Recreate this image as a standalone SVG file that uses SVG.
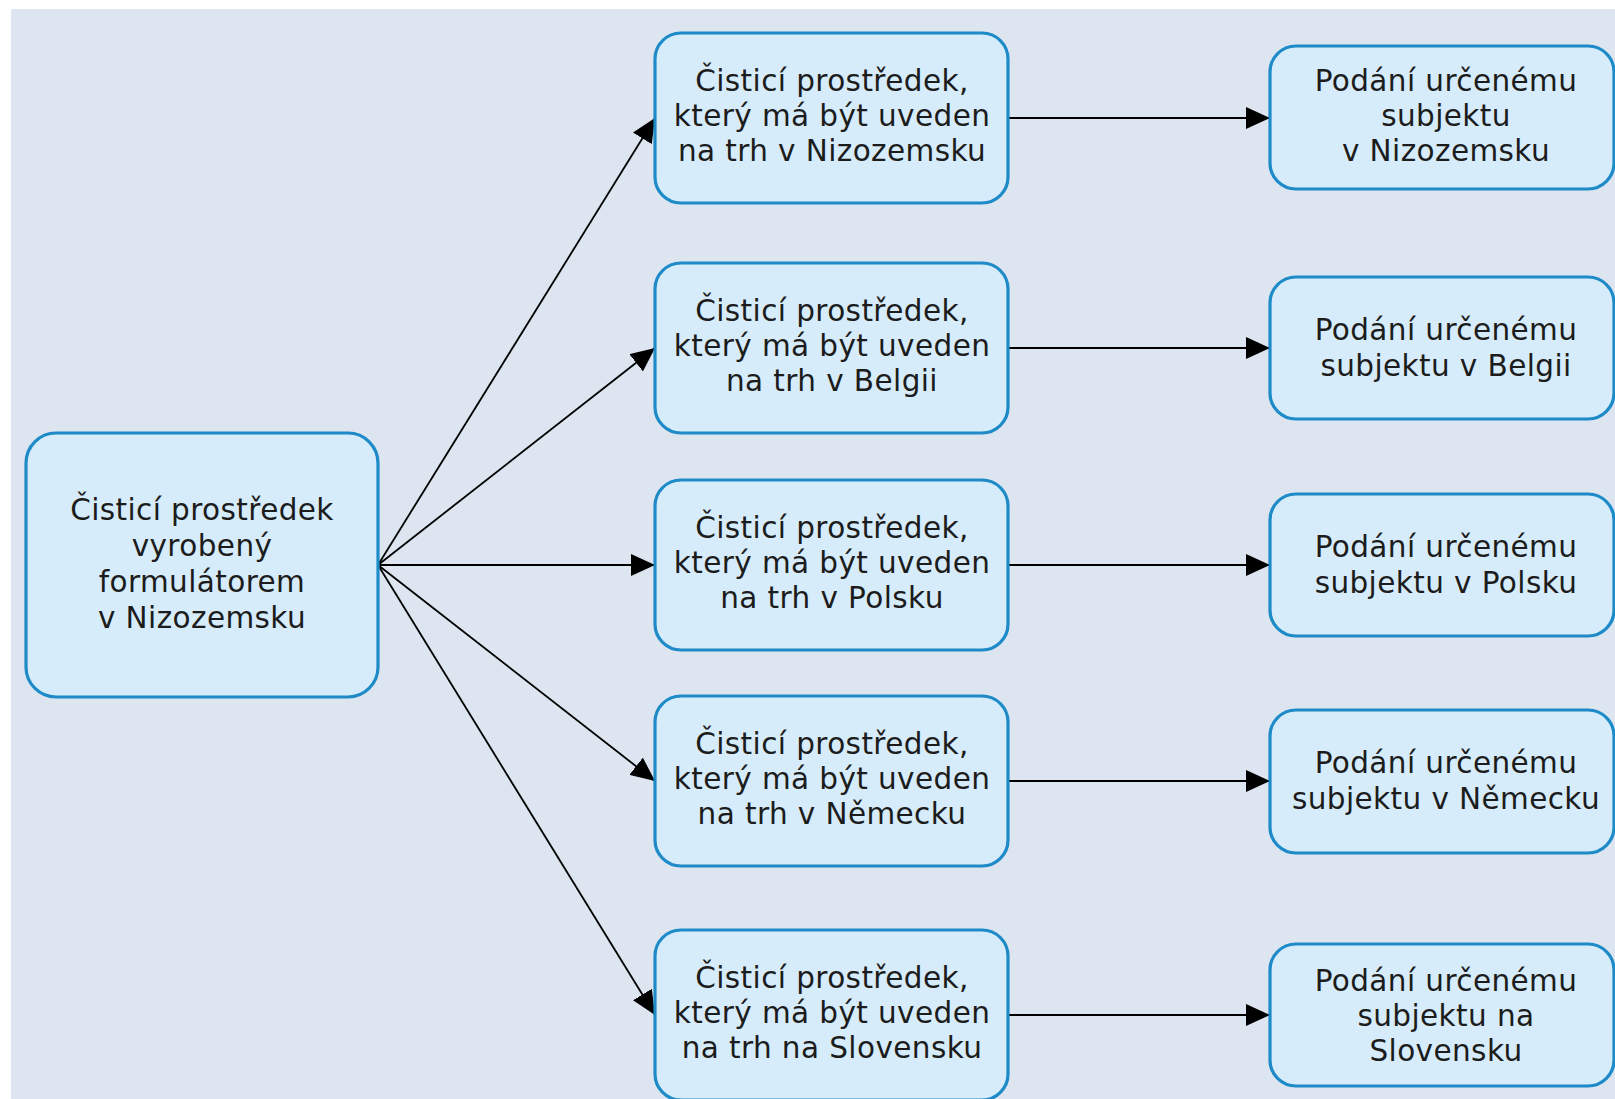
<svg xmlns="http://www.w3.org/2000/svg" width="1615" height="1099" viewBox="0 0 1615 1099">
<defs>
<style>
.box{fill:#d6ecfa;stroke:#1e8bc8;stroke-width:3.2}
.t{font-family:"DejaVu Sans",Verdana,sans-serif;font-size:29.5px;letter-spacing:0.4px;fill:#1c1c1c;text-anchor:middle}
.c{stroke:#000;stroke-width:1.8;fill:none;marker-end:url(#ah)}
</style>
<marker id="ah" markerUnits="userSpaceOnUse" markerWidth="24" markerHeight="22" refX="24" refY="11" orient="auto">
<path d="M0,0 L24,11 L0,22 Z" fill="#000"/>
</marker>
</defs>
<rect x="0" y="0" width="1615" height="1099" fill="#ffffff"/>
<rect x="11" y="9" width="1604" height="1090" fill="#dce5f0"/>
<g id="connectors">
<line class="c" x1="378" y1="565" x2="655" y2="118"/>
<line class="c" x1="378" y1="565" x2="655" y2="348"/>
<line class="c" x1="378" y1="565" x2="655" y2="565"/>
<line class="c" x1="378" y1="565" x2="655" y2="781"/>
<line class="c" x1="378" y1="565" x2="655" y2="1015"/>
<line class="c" x1="1008" y1="118" x2="1270" y2="118"/>
<line class="c" x1="1008" y1="348" x2="1270" y2="348"/>
<line class="c" x1="1008" y1="565" x2="1270" y2="565"/>
<line class="c" x1="1008" y1="781" x2="1270" y2="781"/>
<line class="c" x1="1008" y1="1015" x2="1270" y2="1015"/>
</g>
<g id="source">
<rect class="box" x="26" y="433" width="352" height="264" rx="30"/>
<text class="t" x="202" y="520">Čisticí prostředek</text>
<text class="t" x="202" y="556">vyrobený</text>
<text class="t" x="202" y="592">formulátorem</text>
<text class="t" x="202" y="628">v Nizozemsku</text>
</g>
<g id="m1">
<rect class="box" x="655" y="33" width="353" height="170" rx="26"/>
<text class="t" x="832" y="91">Čisticí prostředek,</text>
<text class="t" x="832" y="126">který má být uveden</text>
<text class="t" x="832" y="161">na trh v Nizozemsku</text>
</g>
<g id="m2">
<rect class="box" x="655" y="263" width="353" height="170" rx="26"/>
<text class="t" x="832" y="321">Čisticí prostředek,</text>
<text class="t" x="832" y="356">který má být uveden</text>
<text class="t" x="832" y="391">na trh v Belgii</text>
</g>
<g id="m3">
<rect class="box" x="655" y="480" width="353" height="170" rx="26"/>
<text class="t" x="832" y="538">Čisticí prostředek,</text>
<text class="t" x="832" y="573">který má být uveden</text>
<text class="t" x="832" y="608">na trh v Polsku</text>
</g>
<g id="m4">
<rect class="box" x="655" y="696" width="353" height="170" rx="26"/>
<text class="t" x="832" y="754">Čisticí prostředek,</text>
<text class="t" x="832" y="789">který má být uveden</text>
<text class="t" x="832" y="824">na trh v Německu</text>
</g>
<g id="m5">
<rect class="box" x="655" y="930" width="353" height="170" rx="26"/>
<text class="t" x="832" y="988">Čisticí prostředek,</text>
<text class="t" x="832" y="1023">který má být uveden</text>
<text class="t" x="832" y="1058">na trh na Slovensku</text>
</g>
<g id="r1">
<rect class="box" x="1270" y="46" width="344" height="143" rx="26"/>
<text class="t" x="1446" y="91">Podání určenému</text>
<text class="t" x="1446" y="126">subjektu</text>
<text class="t" x="1446" y="161">v Nizozemsku</text>
</g>
<g id="r2">
<rect class="box" x="1270" y="277" width="344" height="142" rx="26"/>
<text class="t" x="1446" y="340">Podání určenému</text>
<text class="t" x="1446" y="376">subjektu v Belgii</text>
</g>
<g id="r3">
<rect class="box" x="1270" y="494" width="344" height="142" rx="26"/>
<text class="t" x="1446" y="557">Podání určenému</text>
<text class="t" x="1446" y="593">subjektu v Polsku</text>
</g>
<g id="r4">
<rect class="box" x="1270" y="710" width="344" height="143" rx="26"/>
<text class="t" x="1446" y="773">Podání určenému</text>
<text class="t" x="1446" y="809">subjektu v Německu</text>
</g>
<g id="r5">
<rect class="box" x="1270" y="944" width="344" height="142" rx="26"/>
<text class="t" x="1446" y="991">Podání určenému</text>
<text class="t" x="1446" y="1026">subjektu na</text>
<text class="t" x="1446" y="1061">Slovensku</text>
</g>
</svg>
